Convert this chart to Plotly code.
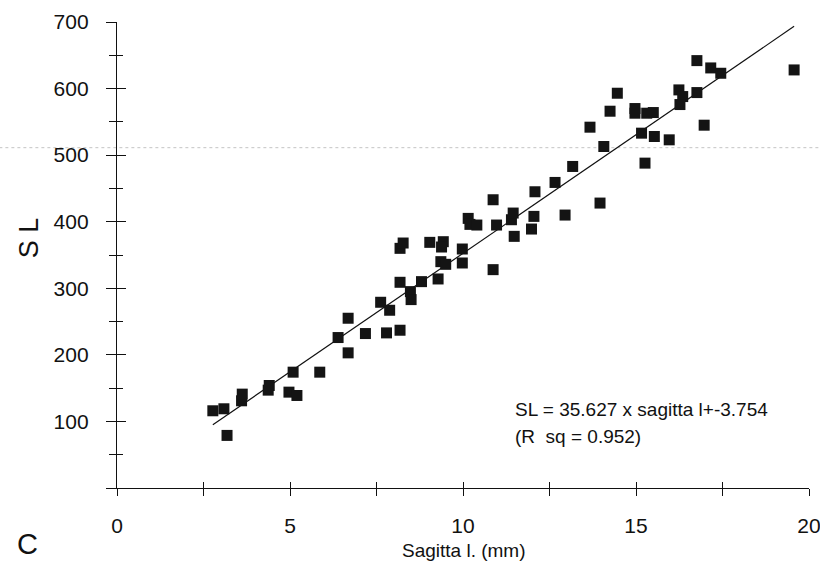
import plotly.graph_objects as go

# ---- data ----
sagitta = [2.77, 3.09, 3.18, 3.6, 3.62, 4.37, 4.4, 4.97, 5.09, 5.2, 5.86, 6.39, 6.68, 6.68,
           7.18, 7.62, 7.88, 7.79, 8.18, 8.18, 8.48, 8.5, 8.8, 9.28, 8.18, 8.27, 9.04, 9.43,
           9.38, 9.36, 9.5, 9.98, 9.98, 10.87, 10.97, 10.87, 10.15, 10.2, 10.4, 11.4, 11.45,
           11.48, 11.98, 12.05, 12.08, 12.66, 12.95, 13.17, 13.96, 14.07, 13.67, 14.25, 14.46,
           15.26, 14.97, 14.97, 15.31, 15.5, 15.16, 15.53, 15.96, 16.24, 16.35, 16.27, 16.76,
           16.97, 16.76, 17.16, 17.45, 19.57]
sl = [116, 119, 79, 131, 141, 147, 154, 144, 174, 139, 174, 226, 203, 255,
      232, 279, 267, 233, 237, 309, 295, 283, 310, 314, 360, 368, 369, 370,
      362, 340, 336, 359, 338, 328, 395, 433, 405, 396, 395, 403, 413,
      378, 389, 408, 445, 459, 410, 483, 428, 513, 542, 566, 593,
      488, 570, 563, 563, 564, 533, 528, 523, 598, 588, 576, 594,
      545, 642, 631, 623, 628]

slope = 35.627
intercept = -3.754

x_tickvals = [0, 2.5, 5, 7.5, 10, 12.5, 15, 17.5, 20]
x_ticktext = ["0", "", "5", "", "10", "", "15", "", "20"]
y_tickvals = [0, 100, 200, 300, 400, 500, 600, 700]
y_ticktext = ["", "100", "200", "300", "400", "500", "600", "700"]

eq_line1 = "SL = 35.627 x sagitta l+-3.754"
eq_line2 = "(R\u00a0\u00a0sq = 0.952)"

FONT = "Arial, Liberation Sans, sans-serif"

x_fit = [min(sagitta), max(sagitta)]
y_fit = [slope * v + intercept for v in x_fit]

fig = go.Figure()
fig.add_trace(go.Scatter(x=x_fit, y=y_fit, mode="lines",
                         line=dict(color="#111111", width=1.2), hoverinfo="skip"))
fig.add_trace(go.Scatter(x=sagitta, y=sl, mode="markers",
                         marker=dict(symbol="square", size=11, color="#141414",
                                     line=dict(width=0))))
# helper trace for overlay axes (inside ticks so that ticks cross the axis)
fig.add_trace(go.Scatter(x=[], y=[], xaxis="x2", yaxis="y2", mode="markers"))

fig.update_layout(
    width=820, height=566,
    margin=dict(l=117, r=11, t=22, b=78),
    paper_bgcolor="white", plot_bgcolor="white",
    showlegend=False,
    font=dict(family=FONT, color="#111111"),
    xaxis=dict(range=[0, 20], showgrid=False, zeroline=False, showline=True,
               linecolor="#111111", linewidth=1.3, automargin=False,
               tickmode="array", tickvals=x_tickvals, ticktext=x_ticktext,
               ticks="outside", ticklen=7, tickwidth=1.2, tickcolor="#111111",
               tickfont=dict(size=21, family=FONT), ticklabelstandoff=12,
               ticklabeloverflow="allow"),
    yaxis=dict(range=[0, 700], showgrid=False, zeroline=False, showline=True,
               linecolor="#111111", linewidth=1.3, automargin=False,
               tickmode="array", tickvals=y_tickvals, ticktext=y_ticktext,
               ticks="outside", ticklen=10, tickwidth=1.2, tickcolor="#111111",
               tickfont=dict(size=21, family=FONT), ticklabelstandoff=13,
               ticklabeloverflow="allow",
               minor=dict(tickmode="linear", tick0=50, dtick=100, ticks="outside",
                          ticklen=7, tickwidth=1.1, tickcolor="#111111")),
    xaxis2=dict(range=[0, 20], overlaying="x", anchor="y", side="bottom",
                automargin=False,
                showgrid=False, zeroline=False, showline=False, showticklabels=False,
                tickmode="array", tickvals=x_tickvals,
                ticks="inside", ticklen=6, tickwidth=1.2, tickcolor="#111111"),
    yaxis2=dict(range=[0, 700], overlaying="y", anchor="x", side="left",
                automargin=False,
                showgrid=False, zeroline=False, showline=False, showticklabels=False,
                tickmode="array", tickvals=y_tickvals,
                ticks="inside", ticklen=9, tickwidth=1.2, tickcolor="#111111",
                minor=dict(tickmode="linear", tick0=50, dtick=100, ticks="inside",
                           ticklen=6, tickwidth=1.1, tickcolor="#111111")),
    shapes=[dict(type="line", xref="paper", yref="paper",
                 x0=-0.17, x1=1.02, y0=0.7303, y1=0.7303,
                 line=dict(color="#c4c4c4", width=1, dash="dot"), layer="below")],
    annotations=[
        dict(text="S L", xref="paper", yref="paper", x=-0.128, y=0.537,
             textangle=-90, showarrow=False, font=dict(size=27, family=FONT),
             xanchor="center", yanchor="middle"),
        dict(text="C", xref="paper", yref="paper", x=-0.129, y=-0.1195,
             showarrow=False, font=dict(size=29, family=FONT),
             xanchor="center", yanchor="middle"),
        dict(text="Sagitta l. (mm)", xref="paper", yref="paper", x=0.501, y=-0.134,
             showarrow=False, font=dict(size=19, family=FONT),
             xanchor="center", yanchor="middle"),
        dict(text=eq_line1, xref="paper", yref="paper", x=0.572, y=0.168,
             showarrow=False, font=dict(size=19, family=FONT),
             xanchor="left", yanchor="middle"),
        dict(text=eq_line2, xref="paper", yref="paper", x=0.572, y=0.110,
             showarrow=False, font=dict(size=19, family=FONT),
             xanchor="left", yanchor="middle"),
    ],
)

fig.write_html("out.html")
